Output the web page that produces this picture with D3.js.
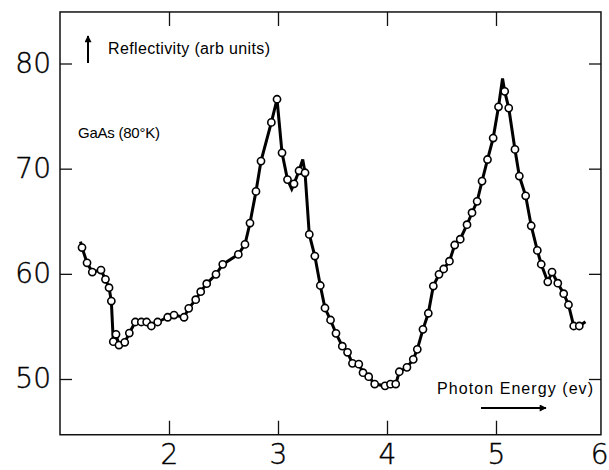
<!DOCTYPE html>
<html>
<head>
<meta charset="utf-8">
<script src="https://cdn.jsdelivr.net/npm/d3@7"></script>
<style>
body { margin: 0; background: #fff; }
svg { display: block; }
.lbl text { font-family: "DejaVu Sans", sans-serif; font-weight: 200; font-size: 28px; fill: #000; stroke: #000; stroke-width: 0.4px; }
.note { font-family: "Liberation Sans", Arial, sans-serif; font-size: 16px; fill: #000; }
</style>
</head>
<body>
<svg id="chart"></svg>
<script>
const width = 609;
const height = 470;

// measured points: photon energy (eV) and reflectivity (arb units)
const energy = [
    1.202, 1.248, 1.296, 1.376, 1.417, 1.450, 1.471, 1.489, 1.514, 1.541,
    1.594, 1.636, 1.691, 1.746, 1.795, 1.838, 1.896, 1.988, 2.046, 2.138,
    2.181, 2.245, 2.291, 2.346, 2.431, 2.493, 2.636, 2.697, 2.743, 2.798,
    2.844, 2.939, 2.991, 3.037, 3.087, 3.147, 3.193, 3.248, 3.287, 3.338,
    3.388, 3.431, 3.482, 3.532, 3.590, 3.638, 3.683, 3.741, 3.780, 3.832,
    3.887, 3.982, 4.032, 4.080, 4.113, 4.183, 4.241, 4.278, 4.330, 4.379,
    4.425, 4.477, 4.520, 4.573, 4.621, 4.672, 4.734, 4.780, 4.827, 4.872,
    4.922, 4.974, 5.023, 5.080, 5.117, 5.174, 5.214, 5.272, 5.323, 5.379,
    5.415, 5.475, 5.514, 5.567, 5.621, 5.665, 5.713, 5.764
];
const reflectivity = [
    62.50, 61.05, 60.17, 60.36, 59.48, 58.68, 57.41, 53.55, 54.25, 53.23,
    53.49, 54.37, 55.42, 55.42, 55.42, 55.04, 55.42, 55.87, 56.08, 55.87,
    56.72, 57.54, 58.30, 59.06, 59.95, 60.90, 61.85, 62.80, 64.83, 67.84,
    70.72, 74.40, 76.60, 71.51, 68.96, 68.56, 69.80, 69.61, 63.75, 61.69,
    58.89, 56.75, 55.61, 54.34, 53.12, 52.54, 51.49, 51.41, 50.60, 50.22,
    49.52, 49.35, 49.51, 49.52, 50.69, 51.11, 51.87, 52.82, 54.72, 56.25,
    58.84, 59.95, 60.46, 61.20, 62.74, 63.29, 64.67, 65.81, 66.89, 68.82,
    70.87, 72.91, 75.88, 77.35, 75.76, 71.83, 69.30, 67.42, 64.57, 62.23,
    60.91, 59.24, 60.17, 59.11, 58.11, 57.06, 55.04, 55.04
];

// corners of the hand drawn curve that have no circle on them
const cornerEnergy = [1.188, 3.126, 3.227, 5.060, 5.821];
const cornerReflectivity = [63.07, 68.06, 70.88, 78.58, 55.45];

const xTicks = [2, 3, 4, 5];
const xLabels = [2, 3, 4, 5, 6];
const yTicks = [50, 60, 70, 80];

const x = d3.scaleLinear().domain([1, 6]).range([60, 605]);
const y = d3.scaleLinear().domain([50, 80]).range([379, 63.5]);

const xMin = 1, xMax = 5.963, yMin = 44.7, yMax = 84.9;

const svg = d3.select('#chart')
    .attr('width', width)
    .attr('height', height);

const points = energy.map((e, i) => ({ e: e, r: reflectivity[i] }));
const curve = points
    .concat(cornerEnergy.map((e, i) => ({ e: e, r: cornerReflectivity[i] })))
    .sort((a, b) => a.e - b.e);

// ticks pointing inward on all four sides
svg.append('g')
    .attr('transform', `translate(0,${y(yMin)})`)
    .call(d3.axisBottom(x).tickValues(xTicks).tickSize(-14).tickFormat(''));
svg.append('g')
    .attr('transform', `translate(0,${y(yMax)})`)
    .call(d3.axisTop(x).tickValues(xTicks).tickSize(-14).tickFormat(''));
svg.append('g')
    .attr('transform', `translate(${x(xMin)},0)`)
    .call(d3.axisLeft(y).tickValues(yTicks).tickSize(-12).tickFormat(''));
svg.append('g')
    .attr('transform', `translate(${x(xMax)},0)`)
    .call(d3.axisRight(y).tickValues(yTicks).tickSize(-12).tickFormat(''));

svg.selectAll('.domain').remove();
svg.selectAll('.tick line').attr('stroke', '#111').attr('stroke-width', 1.3);

// tick labels
const xl = svg.append('g')
    .attr('class', 'lbl')
    .attr('transform', `translate(0,${y(yMin)})`)
    .call(d3.axisBottom(x).tickValues(xLabels).tickSize(0).tickPadding(9).tickFormat(d3.format('d')))
    .call(g => g.select('.domain').remove());
// the last label sits against the page edge
xl.selectAll('.tick text').filter(d => d === 6)
    .attr('text-anchor', 'end')
    .attr('x', width - x(6) - 1);
svg.append('g')
    .attr('class', 'lbl')
    .attr('transform', `translate(${x(xMin)},0)`)
    .call(d3.axisLeft(y).tickValues(yTicks).tickSize(0).tickPadding(9).tickFormat(d3.format('d')))
    .call(g => g.select('.domain').remove());

// frame
svg.append('rect')
    .attr('x', x(xMin))
    .attr('y', y(yMax))
    .attr('width', x(xMax) - x(xMin))
    .attr('height', y(yMin) - y(yMax))
    .attr('fill', 'none')
    .attr('stroke', '#111')
    .attr('stroke-width', 1.5);

// curve and measured points
svg.append('path')
    .datum(curve)
    .attr('d', d3.line().x(d => x(d.e)).y(d => y(d.r)))
    .attr('fill', 'none')
    .attr('stroke', '#000')
    .attr('stroke-width', 3)
    .attr('stroke-linejoin', 'miter');

svg.append('g')
    .selectAll('circle')
    .data(points)
    .join('circle')
    .attr('cx', d => x(d.e))
    .attr('cy', d => y(d.r))
    .attr('r', 3.6)
    .attr('fill', '#fff')
    .attr('stroke', '#000')
    .attr('stroke-width', 1.6);

// arrow heads
const defs = svg.append('defs');
defs.append('marker')
    .attr('id', 'head')
    .attr('viewBox', '0 0 10 10')
    .attr('refX', 9).attr('refY', 5)
    .attr('markerWidth', 11).attr('markerHeight', 7)
    .attr('markerUnits', 'userSpaceOnUse')
    .attr('orient', 'auto')
    .append('path')
    .attr('d', 'M0,0L10,5L0,10Z')
    .attr('fill', '#000');

// annotations
svg.append('line')
    .attr('x1', 88).attr('y1', 63)
    .attr('x2', 88).attr('y2', 36)
    .attr('stroke', '#000').attr('stroke-width', 2)
    .attr('marker-end', 'url(#head)');
svg.append('text').attr('class', 'note')
    .attr('x', 108).attr('y', 54)
    .attr('textLength', 162)
    .text('Reflectivity (arb units)');
svg.append('text').attr('class', 'note')
    .attr('x', 78).attr('y', 138)
    .style('font-size', '15px')
    .attr('textLength', 82)
    .text('GaAs (80°K)');
svg.append('text').attr('class', 'note')
    .attr('x', 437).attr('y', 394)
    .attr('textLength', 156)
    .text('Photon Energy (ev)');
svg.append('line')
    .attr('x1', 481).attr('y1', 408)
    .attr('x2', 546).attr('y2', 408)
    .attr('stroke', '#000').attr('stroke-width', 1.8)
    .attr('marker-end', 'url(#head)');
</script>
</body>
</html>
